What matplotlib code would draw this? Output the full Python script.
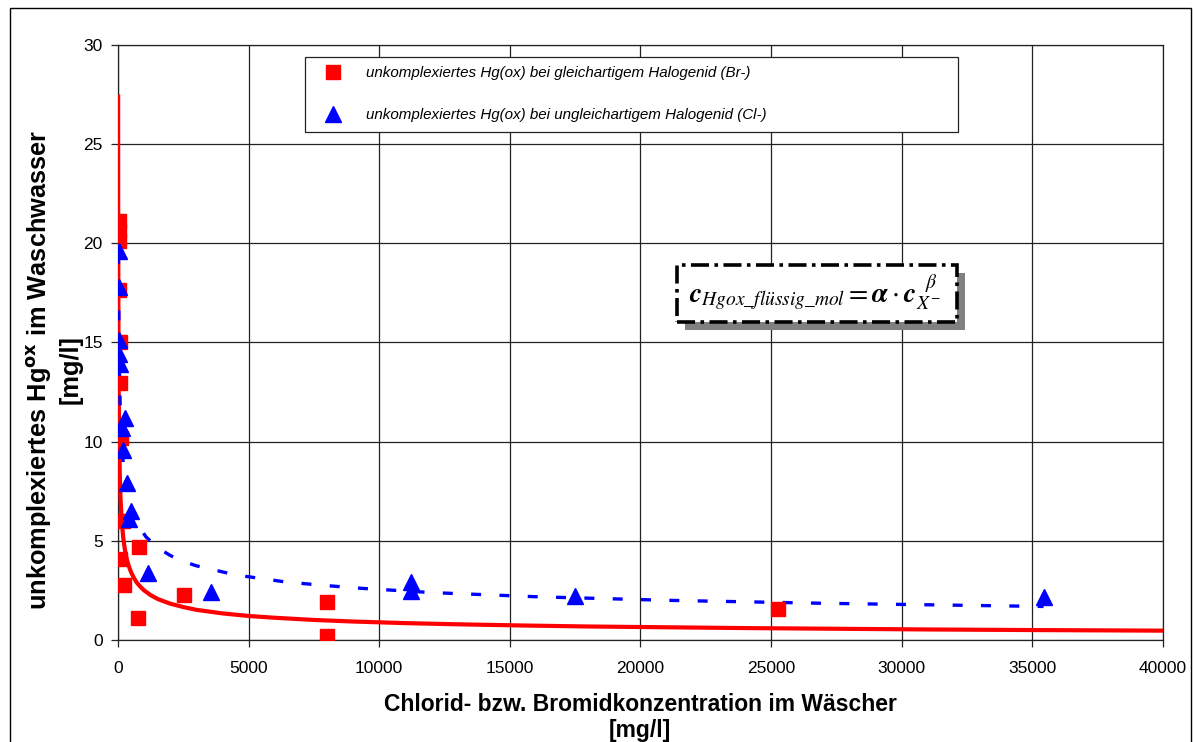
import matplotlib

matplotlib.use("Agg")
import matplotlib.pyplot as plt
from matplotlib.patches import Rectangle

# Messpunkte Br- (gleichartiges Halogenid)
br_x = [30, 40, 30, 50, 60, 70, 100, 80, 200, 230, 800, 770, 2530, 8000, 8000, 25270]
br_y = [21.1, 20.6, 20.1, 17.65, 15.0, 12.95, 10.2, 4.1, 6.0, 2.75, 4.7, 1.1, 2.25, 1.9, 0.2, 1.55]

# Messpunkte Cl- (ungleichartiges Halogenid)
cl_x = [30, 40, 50, 40, 60, 250, 150, 180, 350, 500, 420, 1150, 3560, 11200, 11200, 17500, 35430]
cl_y = [19.6, 17.8, 15.1, 14.4, 13.9, 11.2, 10.7, 9.6, 7.9, 6.5, 6.1, 3.4, 2.4, 2.9, 2.45, 2.2, 2.15]

# Trendlinie Br- (Potenzfunktion)
br_fit_x = [5, 7, 10, 14, 20, 28, 40, 70, 100, 140, 200, 260, 330, 400, 500, 600, 715, 850,
            1000, 1250, 1530, 2000, 2500, 3000, 4000, 5000, 6000, 7500, 9000, 11000, 13000,
            15500, 18000, 21000, 24000, 27500, 31000, 35000, 40000]
br_fit_y = [27.4, 23.3, 19.9, 17.1, 14.5, 12.5, 10.6, 8.3, 7.05, 6.05, 5.16, 4.59, 4.1, 3.78,
            3.42, 3.15, 2.9, 2.69, 2.5, 2.26, 2.06, 1.83, 1.66, 1.52, 1.34, 1.21, 1.12, 1.01,
            0.93, 0.85, 0.79, 0.73, 0.68, 0.64, 0.6, 0.565, 0.53, 0.5, 0.47]

# Trendlinie Cl- (Potenzfunktion)
cl_fit_x = [14, 20, 40, 70, 100, 200, 350, 500, 750, 1070, 1500, 2000, 2500, 3000, 4500,
            6500, 9000, 12000, 16000, 21000, 27000, 35430]
cl_fit_y = [20.9, 18.6, 14.9, 12.5, 11.1, 8.9, 7.45, 6.63, 5.83, 5.2, 4.67, 4.26, 3.96, 3.74,
            3.28, 2.91, 2.63, 2.39, 2.18, 2.0, 1.85, 1.69]

x_ticks = [0, 5000, 10000, 15000, 20000, 25000, 30000, 35000, 40000]
y_ticks = [0, 5, 10, 15, 20, 25, 30]

LABEL_BR = "unkomplexiertes Hg(ox) bei gleichartigem Halogenid (Br-)"
LABEL_CL = "unkomplexiertes Hg(ox) bei ungleichartigem Halogenid (Cl-)"
X_LABEL = "Chlorid- bzw. Bromidkonzentration im Wäscher\n[mg/l]"
Y_LABEL = "unkomplexiertes Hg$^{\\mathbf{ox}}$ im Waschwasser\n[mg/l]"
FORMULA = (r"$\mathbfit{c}_{Hgox\_flüssig\_mol} = \mathbfit{\alpha}\cdot"
           r"\mathbfit{c}_{X^{-}}^{\ \ \beta}$")

plt.rcParams["font.family"] = ["Liberation Sans", "DejaVu Sans"]

fig = plt.figure(figsize=(11.93, 7.42), dpi=100)
ax = fig.add_axes([0.0989, 0.1375, 0.8759, 0.8019])

ax.plot(br_fit_x, br_fit_y, color="#ff0000", linewidth=3.0, zorder=3)
ax.plot(cl_fit_x, cl_fit_y, color="#0000ff", linewidth=2.4, dashes=(3.0, 5.5), zorder=3)
ax.plot(br_x, br_y, linestyle="none", marker="s", markersize=9.5, color="#ff0000",
        label=LABEL_BR, zorder=4)
ax.plot(cl_x, cl_y, linestyle="none", marker="^", markersize=11, color="#0000ff",
        label=LABEL_CL, zorder=4)

ax.set_xlim(0, 40000)
ax.set_ylim(0, 30)
ax.set_xticks(x_ticks)
ax.set_yticks(y_ticks)
ax.grid(True, color="#222222", linewidth=0.9)
ax.set_axisbelow(True)
ax.tick_params(labelsize=12.5, length=5, width=0.9, color="#222222")
ax.tick_params(axis="x", pad=10)
ax.tick_params(axis="y", pad=6)
for spine in ax.spines.values():
    spine.set_color("#222222")
    spine.set_linewidth(0.9)

fig.text(0.5365, 0.033, X_LABEL, ha="center", va="center", fontsize=16.5,
         fontweight="bold", linespacing=1.12, multialignment="center")
fig.text(0.045, 0.502, Y_LABEL, ha="center", va="center", rotation=90, fontsize=18.3,
         fontweight="bold", linespacing=1.25, multialignment="center")

leg = ax.legend(loc="upper left", bbox_to_anchor=(0.179, 0.854, 0.625, 0.126),
                mode="expand", borderaxespad=0, fancybox=False, framealpha=1,
                edgecolor="#222222", prop={"style": "italic", "size": 10.9},
                handletextpad=0.9, labelspacing=1.85, borderpad=0.62, handlelength=2.5)
leg.get_frame().set_linewidth(0.9)

# Formelkasten mit Schatten
shadow = Rectangle((0.543, 0.521), 0.268, 0.096, transform=ax.transAxes,
                   facecolor="#808080", edgecolor="none", zorder=5)
box = Rectangle((0.535, 0.534), 0.268, 0.096, transform=ax.transAxes,
                facecolor="white", edgecolor="black", linewidth=2.6,
                linestyle=(0, (5, 1.5, 1, 1.5)), zorder=6)
ax.add_patch(shadow)
ax.add_patch(box)
ax.text(0.667, 0.583, FORMULA, transform=ax.transAxes, ha="center", va="center",
        fontsize=20, math_fontfamily="stix", zorder=7)

fig.patches.append(Rectangle((0.0084, -0.01), 0.99, 0.999, transform=fig.transFigure,
                             fill=False, edgecolor="black", linewidth=1.0))

fig.savefig("out.png", dpi=100)
